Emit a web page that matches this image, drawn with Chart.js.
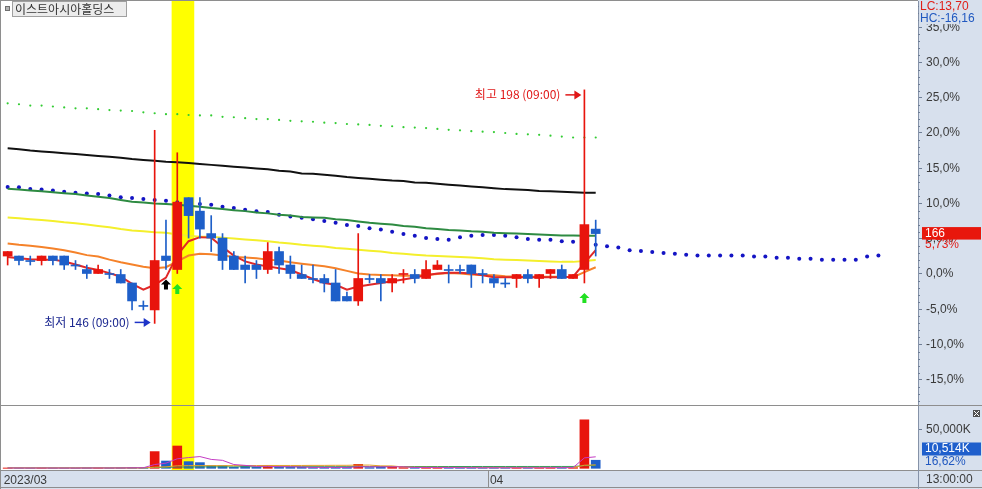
<!DOCTYPE html>
<html><head><meta charset="utf-8">
<script src="https://cdn.jsdelivr.net/npm/chart.js@4.4.1/dist/chart.umd.min.js"></script>
<style>
html,body{margin:0;padding:0;background:#fff;overflow:hidden}
#wrap{position:relative;width:982px;height:489px}
canvas{position:absolute;left:0}
#main{top:0}#vol{top:405px}
</style></head><body>
<div id="wrap"><canvas id="main" width="982" height="405"></canvas><canvas id="vol" width="982" height="84"></canvas></div>
<script>
// ---------------- data ----------------
const stockName = '이스트아시아홀딩스';
const basePrice = 157;            // 0,0% reference price
const extremeTime = '09:00';
const lastTime = '13:00:00';
const slots = Array.from({length: 81}, (_, i) => String(i));   // bar slots (53 candles + forward span)
const monthLabels = ['2023/03', '04'];
const monthStart = [0, 43];
const pctTicks = [-15, -10, -5, 0, 5, 10, 15, 20, 25, 30, 35];
const volTicks = [50000];
const highlight = [15, 16];
const blackSignals = [14];
const greenSignals = [15, 51];

const opens  = [161,161,160,160,161,161,159,158,157,157, 157,155,150,149,161,158,174,171,166,165, 161,159,159,158,162,159,157,156,156,155, 152,151,156,156,155,157,157,156,158,158, 158,159,157,156,155,156,157,156,157,158, 156,158,167];
const highs  = [162,161,161,161,161,161,160,159,159,158, 158,155,151,189,169,184,174,174,170,166, 162,161,160,164,163,161,159,159,157,158, 153,166,157,157,157,158,158,160,160,159, 159,159,158,157,156,157,158,157,158,159, 157,198,169];
const lows   = [159,159,159,159,159,158,158,156,157,156, 155,149,149,146,158,157,165,165,162,158, 158,155,156,157,157,156,156,155,153,151, 151,150,155,151,153,155,155,156,158,155, 157,154,155,154,154,154,155,154,156,156, 156,155,161];
const closes = [162,160,160,161,160,159,159,157,158,157, 155,151,150,160,160,173,170,167,165,160, 158,158,158,162,159,157,156,156,155,151, 151,156,156,155,156,157,156,158,159,158, 158,157,157,155,155,157,156,157,158,156, 157,168,166];
const volumes = [420,310,260,380,300,350,230,520,450,330, 610,1150,880,21800,9500,29100,8700,7400,3500,3400, 1300,3300,1300,3400,1300,1200,1300,1100,1300,1300, 1200,5200,900,1300,1200,900,800,1100,900,600, 500,900,600,700,500,900,700,800,1000,1100, 900,63262,10514];

const ma5   = [160.8,160.5,160.3,160.2,160.2,159.8,159.1,158.4,157.9,157.2, 156.4,154.8,153.5,154.6,156.2,161.2,164.3,165.2,165.1,163.0, 161.1,159.8,159.1,158.7,158.3,157.9,156.9,155.9,155.0,154.6, 153.5,154.2,154.6,155.0,155.4,155.8,156.2,156.7,157.1,157.3, 157.3,157.1,156.7,156.3,156.3,156.3,156.3,156.3,156.3,156.3, 156.4,159.4,162.3];
const ma20  = [163.8,163.5,163.3,163.0,162.7,162.3,161.8,161.2,160.9,160.2, 159.6,159.1,158.6,158.3,158.5,159.8,161.1,161.5,161.4,161.1, 160.8,160.7,160.5,160.2,160.0,159.6,159.3,159.0,158.7,158.3, 157.7,157.1,156.9,156.8,156.7,156.6,156.6,156.8,157.0,157.2, 157.1,156.9,156.8,156.7,156.5,156.4,156.4,156.4,156.4,156.4, 156.3,157.4,158.5];
const ma60  = [169.6,169.4,169.2,169.0,168.8,168.5,168.3,168.0,167.7,167.4, 167.0,166.7,166.5,166.3,166.2,165.8,165.5,165.3,165.3,165.1, 164.9,164.7,164.5,164.3,164.0,163.8,163.5,163.3,163.1,162.8, 162.6,162.4,162.2,162.0,161.7,161.5,161.3,161.1,161.0,160.9, 160.8,160.7,160.5,160.3,160.2,160.1,160.0,159.9,159.8,159.7, 159.7,159.9,160.1];
const ma120 = [176.0,175.8,175.6,175.4,175.2,175.0,174.8,174.5,174.2,173.9, 173.5,173.1,172.9,172.7,172.6,172.4,172.2,172.0,171.7,171.5, 171.2,171.0,170.7,170.5,170.2,170.0,169.7,169.6,169.5,169.2, 169.0,168.7,168.4,168.2,168.0,167.7,167.5,167.2,167.0,166.8, 166.7,166.5,166.4,166.2,166.1,166.0,165.9,165.8,165.7,165.6, 165.6,165.5,165.5];
const ma240 = [185.0,184.8,184.5,184.3,184.1,183.9,183.7,183.5,183.3,183.1, 182.9,182.6,182.4,182.2,182.0,181.9,181.7,181.5,181.3,181.1, 180.9,180.7,180.5,180.3,180.0,179.8,179.4,179.3,179.1,178.9, 178.6,178.4,178.2,178.0,177.8,177.7,177.4,177.3,177.1,176.9, 176.7,176.5,176.3,176.1,175.9,175.8,175.7,175.5,175.4,175.3, 175.2,175.1,175.1];
const leadSpan = [176.4,176.3,175.9,175.8,175.6,175.3,175.1,174.9,174.8,174.5, 174.1,173.9,173.7,173.5,173.3,173.0,172.8,172.6,172.4,172.0, 171.7,171.3,171.0,170.8,170.2,169.8,169.5,169.2,168.8,168.4, 167.9,167.7,167.2,166.9,166.4,165.9,165.5,165.0,164.8,164.6, 165.2,165.5,165.7,165.7,165.5,165.2,164.8,164.6,164.6,164.3, 164.2,163.9,163.5,163.2,162.9,162.3,162.1,161.9,161.7,161.5, 161.3,161.1,161.1,161.1,161.1,161.1,160.9,160.9,160.6,160.6, 160.4,160.4,160.2,160.2,160.2,160.2,160.9,161.1];
const upperBand = [195.0,194.8,194.5,194.5,194.3,194.1,193.9,193.9,193.7,193.5, 193.4,193.3,193.0,192.8,192.6,192.6,192.4,192.3,192.3,192.0, 191.9,191.7,191.5,191.5,191.3,191.1,191.0,190.9,190.7,190.6, 190.4,190.3,190.2,190.0,189.9,189.7,189.6,189.5,189.3,189.1, 189.0,188.8,188.7,188.6,188.4,188.2,188.1,188.0,187.8,187.6, 187.4,187.4,187.4];
const volMa5  = [380,360,340,340,330,320,310,360,380,380, 430,610,680,4900,6700,12400,14000,15300,11600,10400, 4900,3800,2500,2500,2100,2100,1700,1200,1200,1200, 1200,2000,2000,1900,2000,1900,1000,1000,1000,900, 800,800,700,700,700,700,700,700,800,900, 900,13600,15000];
const volMa20 = [450,440,430,430,420,420,410,420,420,410, 420,450,470,1500,1950,3300,3500,3500,3500,3500, 3500,3600,3600,3700,3700,3700,3700,3800,3800,3900, 3900,4200,4200,3200,3100,1700,1300,1300,1200,1100, 1000,1000,900,900,900,900,900,900,900,900, 900,4000,4500];
const volMa60 = [600,600,600,600,600,600,600,600,600,600, 600,620,630,980,1130,1610,1750,1870,1920,1970, 1980,2030,2050,2100,2110,2120,2130,2140,2150,2160, 2170,2250,2260,2270,2280,2290,2300,2310,2320,2330, 2330,2340,2350,2350,2360,2360,2370,2370,2380,2390, 2390,3440,3600];

// ---------------- styling ----------------
const pctAxisMin = -18.58, pctAxisMax = 38.72;
const volAxisMin = -2220, volAxisMax = 81300;
const axisFont = '"Liberation Sans Narrow", "Liberation Sans", Arial, sans-serif';
const krFont = '"Noto Sans CJK KR", "Noto Sans", sans-serif';
const axisBg = '#d7e0ed';
const frameColor = '#8e8e8e';
const axisLine = '#8592a8';
const upColor = '#e8140c', downColor = '#1e5fc9';

const pct = p => (p / basePrice - 1) * 100;
const comma = v => v.toFixed(2).replace('.', ',');
const candleColors = closes.map((c, i) => c > opens[i] ? upColor : c < opens[i] ? downColor : (i > 0 && c > closes[i - 1] ? upColor : downColor));
const slotHalf = xs => (xs.getPixelForValue(1) - xs.getPixelForValue(0)) / 2;
const noPad = s => { s.paddingTop = 0; s.paddingBottom = 0; s.paddingLeft = 0; s.paddingRight = 0; };

function lineDs(arr, color, width, order, conv) {
  return {type: 'line', data: arr.map(conv), borderColor: color, borderWidth: width, pointRadius: 0, tension: 0, fill: false, order};
}
function dotDs(arr, color, r, order) {
  return {type: 'line', data: arr.map(pct), showLine: false, pointRadius: r, pointHoverRadius: r, pointBackgroundColor: color, pointBorderWidth: 0, order};
}
function upArrow(ctx, x, y, color) {
  ctx.fillStyle = color;
  ctx.beginPath();
  ctx.moveTo(x, y); ctx.lineTo(x + 5, y + 5); ctx.lineTo(x + 2, y + 5); ctx.lineTo(x + 2, y + 10);
  ctx.lineTo(x - 2, y + 10); ctx.lineTo(x - 2, y + 5); ctx.lineTo(x - 5, y + 5); ctx.closePath(); ctx.fill();
}
function rightArrow(ctx, x0, x1, y, color) {
  ctx.strokeStyle = color; ctx.fillStyle = color; ctx.lineWidth = 1.5;
  ctx.beginPath(); ctx.moveTo(x0, y); ctx.lineTo(x1 - 5, y); ctx.stroke();
  ctx.beginPath(); ctx.moveTo(x1, y); ctx.lineTo(x1 - 7, y - 4.5); ctx.lineTo(x1 - 7, y + 4.5); ctx.closePath(); ctx.fill();
}

const mainDeco = {
  id: 'mainDeco',
  beforeDraw(chart) {
    const {ctx, chartArea: a, width, height} = chart;
    ctx.save();
    ctx.fillStyle = '#fff'; ctx.fillRect(0, 0, width, height);
    ctx.fillStyle = axisBg; ctx.fillRect(a.right, 0, width - a.right, height);
    ctx.restore();
  },
  beforeDatasetsDraw(chart) {
    const {ctx, chartArea: a, scales: {x}} = chart;
    const h = slotHalf(x);
    const x0 = x.getPixelForValue(highlight[0]) - h, x1 = x.getPixelForValue(highlight[highlight.length - 1]) + h;
    ctx.save(); ctx.fillStyle = '#ffff00';
    ctx.fillRect(x0, 0, x1 - x0, a.bottom);
    ctx.restore();
  },
  afterDatasetsDraw(chart) {
    const {ctx, scales: {x, y}} = chart;
    ctx.save();
    blackSignals.forEach(i => upArrow(ctx, x.getPixelForValue(i), y.getPixelForValue(pct(lows[i])) + 10, '#000'));
    greenSignals.forEach(i => upArrow(ctx, x.getPixelForValue(i), y.getPixelForValue(pct(lows[i])) + 10, '#22e022'));
    const maxH = Math.max(...highs), minL = Math.min(...lows);
    const hi = highs.indexOf(maxH), lo = lows.indexOf(minL);
    ctx.font = '12px ' + krFont; ctx.textAlign = 'right'; ctx.textBaseline = 'middle';
    const hx = x.getPixelForValue(hi), hy = y.getPixelForValue(pct(maxH)) + 5;
    ctx.fillStyle = '#e01818';
    ctx.fillText('최고 ' + maxH + ' (' + extremeTime + ')', hx - 24, hy);
    rightArrow(ctx, hx - 19, hx - 3, hy, '#e01818');
    const lx = x.getPixelForValue(lo), ly = y.getPixelForValue(pct(minL)) - 1;
    ctx.fillStyle = '#1c2890';
    ctx.fillText('최저 ' + minL + ' (' + extremeTime + ')', lx - 25, ly);
    rightArrow(ctx, lx - 20, lx - 4, ly, '#1e34c8');
    ctx.restore();
  },
  afterDraw(chart) {
    const {ctx, chartArea: a, width, scales: {y}} = chart;
    ctx.save();
    ctx.strokeStyle = frameColor; ctx.lineWidth = 1;
    ctx.beginPath(); ctx.moveTo(0, 0.5); ctx.lineTo(a.right, 0.5); ctx.moveTo(0.5, 0); ctx.lineTo(0.5, a.bottom); ctx.stroke();
    ctx.strokeStyle = '#6f7e96';
    ctx.beginPath();
    for (let v = Math.ceil(pctAxisMin); v <= Math.floor(pctAxisMax); v++) {
      if (v % 5 === 0) continue;
      const py = Math.round(y.getPixelForValue(v)) + 0.5;
      ctx.moveTo(a.right, py); ctx.lineTo(a.right + 2, py);
    }
    ctx.stroke();
    const last = closes[closes.length - 1];
    const minL = Math.min(...lows), maxH = Math.max(...highs);
    ctx.fillStyle = axisBg; ctx.fillRect(a.right + 1, 0, width - a.right - 1, 24);
    ctx.font = '12px ' + axisFont; ctx.textAlign = 'left'; ctx.textBaseline = 'middle';
    ctx.fillStyle = '#e0201a'; ctx.fillText('LC:' + comma((last - minL) / minL * 100), a.right + 2, 7);
    ctx.fillStyle = '#2058c0'; ctx.fillText('HC:' + comma((last - maxH) / maxH * 100), a.right + 2, 18.5);
    const py = y.getPixelForValue(pct(last));
    ctx.fillStyle = '#e8170c'; ctx.fillRect(a.right + 4, py - 6.5, 59, 12.5);
    ctx.fillStyle = '#fff'; ctx.fillText(String(last), a.right + 7, py);
    ctx.fillStyle = '#e0201a'; ctx.fillText(comma(pct(last)) + '%', a.right + 7, py + 11.5);
    ctx.fillStyle = '#b4b4b4'; ctx.fillRect(5, 6, 5, 5);
    ctx.strokeStyle = '#707070'; ctx.strokeRect(5.5, 6.5, 4, 4);
    ctx.fillStyle = '#ececec'; ctx.fillRect(12.5, 1.5, 114, 15);
    ctx.strokeStyle = '#a0a0a0'; ctx.strokeRect(12.5, 1.5, 114, 15);
    ctx.fillStyle = '#333'; ctx.font = '12px ' + krFont; ctx.textAlign = 'left';
    ctx.fillText(stockName, 15, 9.5);
    ctx.restore();
  }
};

const volDeco = {
  id: 'volDeco',
  beforeDraw(chart) {
    const {ctx, chartArea: a, width, height} = chart;
    ctx.save();
    ctx.fillStyle = '#fff'; ctx.fillRect(0, 0, width, height);
    ctx.fillStyle = axisBg; ctx.fillRect(a.right, 0, width - a.right, height);
    ctx.fillRect(0, a.bottom, width, height - a.bottom);
    ctx.restore();
  },
  beforeDatasetsDraw(chart) {
    const {ctx, chartArea: a, scales: {x}} = chart;
    const h = slotHalf(x);
    const x0 = x.getPixelForValue(highlight[0]) - h, x1 = x.getPixelForValue(highlight[highlight.length - 1]) + h;
    ctx.save(); ctx.fillStyle = '#ffff00';
    ctx.fillRect(x0, 0, x1 - x0, a.bottom);
    ctx.restore();
  },
  afterDraw(chart) {
    const {ctx, chartArea: a, width, height, scales: {x, y}} = chart;
    ctx.save();
    ctx.strokeStyle = frameColor; ctx.lineWidth = 1;
    ctx.beginPath();
    ctx.moveTo(0, 0.5); ctx.lineTo(width, 0.5);
    ctx.moveTo(0, a.bottom + 0.5); ctx.lineTo(width, a.bottom + 0.5);
    ctx.moveTo(0, height - 1.5); ctx.lineTo(width, height - 1.5);
    ctx.moveTo(0.5, 0); ctx.lineTo(0.5, height);
    const h = slotHalf(x);
    monthStart.slice(1).forEach(i => { const sx = Math.round(x.getPixelForValue(i) - h) + 0.5; ctx.moveTo(sx, a.bottom); ctx.lineTo(sx, height - 1.5); });
    ctx.stroke();
    ctx.strokeStyle = axisLine;
    ctx.beginPath(); ctx.moveTo(a.right + 0.5, a.bottom); ctx.lineTo(a.right + 0.5, height); ctx.stroke();
    ctx.fillStyle = '#505050'; ctx.fillRect(width - 9, 5, 7, 7);
    ctx.strokeStyle = '#fff'; ctx.beginPath();
    ctx.moveTo(width - 8, 6); ctx.lineTo(width - 3, 11); ctx.moveTo(width - 3, 6); ctx.lineTo(width - 8, 11); ctx.stroke();
    const lastV = volumes[volumes.length - 1], prevV = volumes[volumes.length - 2];
    const by = Math.min(y.getPixelForValue(lastV), a.bottom - 21);
    ctx.fillStyle = '#1f5fcc'; ctx.fillRect(a.right + 4, by - 6.5, 59, 13);
    ctx.font = '12px ' + axisFont; ctx.textAlign = 'left'; ctx.textBaseline = 'middle';
    ctx.fillStyle = '#fff'; ctx.fillText(lastV.toLocaleString('en-US') + 'K', a.right + 7, by);
    ctx.fillStyle = '#2058c0'; ctx.fillText(comma(lastV / prevV * 100) + '%', a.right + 7, by + 12.5);
    ctx.fillStyle = '#3a3a3a'; ctx.fillText(lastTime, a.right + 8, (a.bottom + height) / 2);
    ctx.restore();
  }
};

Chart.defaults.font.family = axisFont;

new Chart(document.getElementById('main'), {
  type: 'bar',
  data: {
    labels: slots,
    datasets: [
      {type: 'bar', data: opens.map((o, i) => [pct(o), pct(closes[i])]), backgroundColor: candleColors, barThickness: 9, minBarLength: 1, grouped: false, order: 0},
      {type: 'bar', data: lows.map((l, i) => [pct(l), pct(highs[i])]), backgroundColor: candleColors, barThickness: 1, grouped: false, order: 1},
      lineDs(ma5, '#e02828', 2, 2, pct),
      lineDs(ma20, '#f5822a', 2, 3, pct),
      lineDs(ma60, '#f4ef2c', 2, 4, pct),
      lineDs(ma120, '#2e8b42', 2, 5, pct),
      lineDs(ma240, '#111111', 2, 6, pct),
      dotDs(leadSpan, '#1414c4', 2, 7),
      dotDs(upperBand, '#33cc33', 1.1, 8)
    ]
  },
  options: {
    responsive: false, animation: false, devicePixelRatio: 1, events: [],
    layout: {padding: {left: 2, top: 1, right: 0, bottom: 0}, autoPadding: false},
    plugins: {legend: {display: false}, tooltip: {enabled: false}},
    scales: {
      x: {type: 'category', offset: true, display: false, grid: {offset: true}, afterFit: noPad},
      y: {
        position: 'right', min: pctAxisMin, max: pctAxisMax,
        afterFit: s => { s.width = 64; noPad(s); },
        afterBuildTicks: s => { s.ticks = pctTicks.map(v => ({value: v})); },
        grid: {drawOnChartArea: false, drawTicks: true, tickLength: 4, tickColor: '#6f7e96'},
        border: {display: true, color: axisLine},
        ticks: {padding: 4, color: '#3a3a3a', font: {family: axisFont, size: 12}, callback: v => v.toFixed(1).replace('.', ',') + '%'}
      }
    }
  },
  plugins: [mainDeco]
});

new Chart(document.getElementById('vol'), {
  type: 'bar',
  data: {
    labels: slots,
    datasets: [
      {type: 'bar', data: volumes, backgroundColor: candleColors, barThickness: 9, grouped: false, order: 5},
      lineDs(volMa5, '#c43cc4', 1, 1, v => v),
      lineDs(volMa20, '#e3a028', 1, 2, v => v),
      lineDs(volMa60, '#3c9a5c', 1, 3, v => v)
    ]
  },
  options: {
    responsive: false, animation: false, devicePixelRatio: 1, events: [],
    layout: {padding: {left: 2, top: 1, right: 0, bottom: 0}, autoPadding: false},
    plugins: {legend: {display: false}, tooltip: {enabled: false}},
    scales: {
      x: {
        type: 'category', offset: true,
        grid: {display: false, drawTicks: false, offset: true}, border: {display: false},
        afterFit: s => { s.height = 19; noPad(s); },
        ticks: {autoSkip: false, maxRotation: 0, minRotation: 0, align: 'start', labelOffset: -4, padding: 3, color: '#3a3a3a', font: {family: axisFont, size: 12},
          callback: (v, i) => { const k = monthStart.indexOf(i); return k >= 0 ? monthLabels[k] : ''; }}
      },
      y: {
        position: 'right', min: volAxisMin, max: volAxisMax,
        afterFit: s => { s.width = 64; noPad(s); },
        afterBuildTicks: s => { s.ticks = volTicks.map(v => ({value: v})); },
        grid: {drawOnChartArea: false, drawTicks: true, tickLength: 4, tickColor: '#6f7e96'},
        border: {display: true, color: axisLine},
        ticks: {padding: 4, color: '#3a3a3a', font: {family: axisFont, size: 12}, callback: v => v.toLocaleString('en-US') + 'K'}
      }
    }
  },
  plugins: [volDeco]
});
</script>
</body></html>
